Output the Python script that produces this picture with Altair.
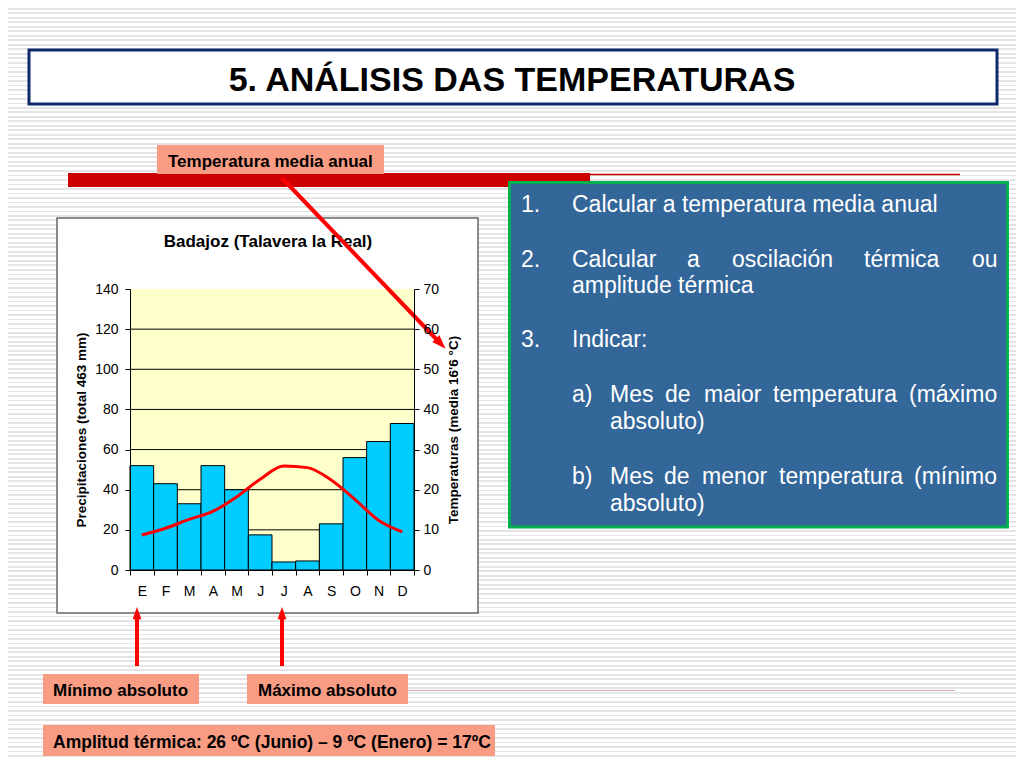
import altair as alt
import pandas as pd

# ---------------- data ----------------
months = ["E", "F", "M", "A", "M", "J", "J", "A", "S", "O", "N", "D"]
precip_mm = [52, 43, 33, 52, 40, 17.5, 4, 4.5, 23, 56, 64, 73]
temp_c = [8.7, 10.4, 12.6, 14.6, 18.2, 22.6, 25.9, 25.5, 22.4, 17.6, 12.4, 9.5]
precip_ticks = [0, 20, 40, 60, 80, 100, 120, 140]
temp_ticks = [0, 10, 20, 30, 40, 50, 60, 70]
grid_vals = [20, 40, 60, 80, 100, 120]

df = pd.DataFrame({"mes": list(range(1, 13)), "letra": months,
                   "precip": precip_mm, "temp": temp_c})
grid_df = pd.DataFrame({"v": grid_vals})
one = pd.DataFrame({"k": [0]})

# ---------------- layout helpers (page pixel coords -> view coords) ----------------
FONT = "Liberation Sans"
OX, OY = 130, 289          # page position of the plot-area origin
W, H = 284, 281            # plot area size
SALMON = "#F89C84"


def vx(p):
    return p - OX


def vy(p):
    return p - OY


def rect(x1, y1, x2, y2, fill, stroke="", sw=0):
    kw = dict(fill=fill, strokeWidth=sw)
    if stroke:
        kw["stroke"] = stroke
    return alt.Chart(one).mark_rect(**kw).encode(
        x=alt.value(vx(x1)), x2=alt.value(vx(x2)),
        y=alt.value(vy(y1)), y2=alt.value(vy(y2)))


def text(s, x, y, size, bold=False, color="black", align="left"):
    return alt.Chart(one).mark_text(
        text=s, align=align, baseline="alphabetic", fontSize=size, font=FONT,
        color=color, fontWeight="bold" if bold else "normal"
    ).encode(x=alt.value(vx(x)), y=alt.value(vy(y)))


def segment(x1, y1, x2, y2, color, width):
    return alt.Chart(one).mark_rule(color=color, strokeWidth=width).encode(
        x=alt.value(vx(x1)), x2=alt.value(vx(x2)),
        y=alt.value(vy(y1)), y2=alt.value(vy(y2)))


def head(x, y, angle, color, size):
    return alt.Chart(one).mark_point(
        shape="M0,-1L0.62,0.75L-0.62,0.75Z", filled=True, color=color,
        opacity=1, size=size, angle=angle, strokeWidth=0
    ).encode(x=alt.value(vx(x)), y=alt.value(vy(y)))


# striped slide background (gradient with hard stops)
TOTAL_H = 752
period, thick, gray = 4.5, 1.6, "#E4E4E4"
stops = []
i = 0
while i * period + thick < TOTAL_H:
    a = round(i * period / TOTAL_H, 6)
    b = round((i * period + thick) / TOTAL_H, 6)
    stops += [alt.GradientStop(offset=a, color="white"),
              alt.GradientStop(offset=a, color=gray),
              alt.GradientStop(offset=b, color=gray),
              alt.GradientStop(offset=b, color="white")]
    i += 1
stripes = alt.Chart(one).mark_rect(
    fill=alt.LinearGradient(gradient="linear", stops=stops, x1=0, x2=0, y1=0, y2=1),
    strokeWidth=0
).encode(x=alt.value(vx(8)), x2=alt.value(vx(1016)),
         y=alt.value(vy(8)), y2=alt.value(vy(760)))

layers = [stripes]

# title box
layers += [rect(29, 50, 997, 104, "white", "#0E2A6B", 3),
           text("5. ANÁLISIS DAS TEMPERATURAS", 512, 91, 34, bold=True, align="center")]

# red bar + thin lines
layers += [rect(68, 173, 590, 187, "#CC0000"),
           segment(590, 174.5, 960, 174.5, "#C00000", 1.5),
           segment(408, 690.5, 955, 690.5, "#D8A8A8", 1)]

# salmon label top
LS = 17
layers += [rect(157, 145, 384, 174, SALMON),
           text("Temperatura media anual", 168, 167, LS, bold=True)]

# blue box with questions
BW = "white"
FS = 23
layers += [rect(509.5, 182.5, 1007.5, 527, "#336699", "#00B050", 3)]
blue_words = [
    ("1.", 521, 212), ("Calcular a temperatura media anual", 572, 212),
    ("2.", 521, 267), ("Calcular", 572, 267), ("a", 687, 267), ("oscilación", 732, 267),
    ("térmica", 864, 267), ("ou", 972, 267),
    ("amplitude térmica", 572, 293),
    ("3.", 521, 347), ("Indicar:", 572, 347),
    ("a)", 572, 402), ("Mes", 610, 402), ("de", 665, 402), ("maior", 704, 402),
    ("temperatura", 773, 402), ("(máximo", 909, 402),
    ("absoluto)", 610, 429),
    ("b)", 572, 484), ("Mes", 610, 484), ("de", 664, 484), ("menor", 702, 484),
    ("temperatura", 779, 484), ("(mínimo", 914, 484),
    ("absoluto)", 610, 511),
]
for s, x, y in blue_words:
    layers.append(text(s, x, y, FS, color=BW))

# chart frame + chart title
layers += [rect(57, 218, 478, 613, "white", "#666666", 1.5),
           text("Badajoz (Talavera la Real)", 268, 247, 17, bold=True, align="center"),
           rect(OX, OY, OX + W, OY + H, "#FFFFCC")]

# ---------------- climograph ----------------
label_expr = "[" + ",".join("'%s'" % m for m in months) + "][datum.value - 1]"
x_axis = alt.Axis(title=None, labelExpr=label_expr, labelAngle=0, tickBand="extent",
                  tickSize=5, labelPadding=9, grid=False, zindex=1)
x_enc = alt.X("mes:O", scale=alt.Scale(paddingInner=0, paddingOuter=0), axis=x_axis)

grid = alt.Chart(grid_df).mark_rule(color="black", strokeWidth=1).encode(
    y=alt.Y("v:Q", scale=alt.Scale(domain=[0, 140], nice=False), axis=None))

bars = alt.Chart(df).mark_bar(fill="#00CCFF", stroke="black", strokeWidth=1).encode(
    x=x_enc,
    y=alt.Y("precip:Q", scale=alt.Scale(domain=[0, 140], nice=False),
            axis=alt.Axis(values=precip_ticks, title="Precipitaciones (total  463 mm)",
                          tickSize=5, labelPadding=7, titlePadding=6, grid=False,
                          zindex=1)))

line = alt.Chart(df).mark_line(color="#FF0000", strokeWidth=3, interpolate="monotone").encode(
    x=x_enc,
    y=alt.Y("temp:Q", scale=alt.Scale(domain=[0, 70], nice=False),
            axis=alt.Axis(orient="right", values=temp_ticks,
                          title="Temperaturas (media 16'6 °C)", titleAngle=270,
                          tickSize=5, labelPadding=4, titlePadding=22, grid=False,
                          zindex=1)))

layers += [grid, bars, line]

# arrows
RED = "#FF0000"
layers += [segment(282, 178, 440, 343, RED, 4), head(440, 343, 136.5, RED, 260),
           segment(137, 617, 137, 666, RED, 4), head(137, 614, 0, RED, 200),
           segment(282, 617, 282, 666, RED, 4), head(282, 614, 0, RED, 200)]

# bottom labels
layers += [rect(43, 674, 199, 704, SALMON), text("Mínimo absoluto", 53, 696, LS, bold=True),
           rect(247, 674, 408, 704, SALMON), text("Máximo absoluto", 258, 696, LS, bold=True),
           rect(43, 725, 495, 756, SALMON),
           text("Amplitud térmica: 26 ºC (Junio) –  9 ºC (Enero) = 17ºC", 53, 747.5, 17.5, bold=True)]

chart = alt.layer(*layers).resolve_scale(y="independent").properties(
    width=W, height=H,
    autosize=alt.AutoSizeParams(type="none"),
    padding={"left": 122, "top": 281, "right": 602, "bottom": 190},
).configure_view(strokeWidth=0).configure_axis(
    labelFont=FONT, titleFont=FONT, labelFontSize=14, titleFontSize=13.5,
    labelColor="black", titleColor="black", titleFontWeight="bold",
    domainColor="black", tickColor="black", domainWidth=1, tickWidth=1
)

chart.save("out.html", embed_options={"renderer": "svg", "actions": False})
